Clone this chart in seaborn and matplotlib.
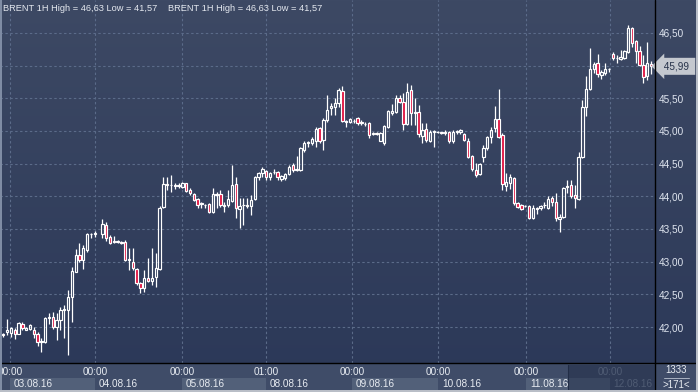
import numpy as np
import matplotlib
matplotlib.use("Agg")
import matplotlib.pyplot as plt
import seaborn as sns
from matplotlib.transforms import blended_transform_factory, offset_copy
from matplotlib.patches import Rectangle

nan = np.nan
# ---------------- data (hourly Brent candles, one NaN slot = missing hour) -------------
open_ = [41.89, 41.92, 41.91, 41.95, 41.90, 42.05, 41.96, 41.97, 41.95, 41.89,
         41.77, 41.77, 42.14, 42.15, 42.00, 42.11, 42.26, 42.26, 42.46, 42.84,
         43.10, 43.03, 43.18, 43.42, 43.43, nan, 43.42, 43.56, 43.38, 43.30, 43.31,
         43.30, 43.30, 43.03, 43.00, 42.89, 42.67, 42.60, 42.75, 42.70, 42.76,
         42.89, 43.84, 44.19, 44.18, 44.17, 44.16, 44.15, 44.20, 44.09, 44.04,
         43.96, 43.88, 43.87, 43.88, 43.76, 44.03, 44.04, 43.85, 43.87, 43.93,
         44.19, 43.81, 43.86, 43.86, 43.85, 43.96, 44.30, 44.36, 44.39, 44.30,
         44.37, 44.38, 44.27, 44.28, 44.34, 44.48, 44.41, 44.40, 44.71, 44.82,
         44.82, 44.85, 45.05, 44.86, 45.17, 45.35, 45.36, 45.43, 45.61, 45.15,
         45.14, 45.16, 45.20, 45.14, 45.11, 45.12, 44.96, 44.97, 44.85, 44.82,
         45.06, 45.28, 45.29, 45.51, 45.44, 45.11, 45.63, 45.28, 45.29, 44.92,
         45.03, 44.85, 44.99, 44.99, 44.98, 44.97, 44.99, 44.84, 44.99, 44.98,
         44.95, 44.85, 44.62, 44.40, 44.34, 44.60, 44.74, 44.91, 45.05, 45.18,
         44.94, 44.16, 44.20, 44.28, 43.90, 43.87, 43.85, 43.85, 43.67, 43.82,
         43.82, 43.87, 43.82, 43.97, 43.91, 43.66, 43.68, 44.15, 44.17, 44.02,
         43.96, 44.60, 45.37, 45.64, 45.95, 46.04, 45.86, 45.89, 45.95, 46.18,
         46.12, 46.10, 46.12, 46.21, 46.58, 46.38, 46.22, 46.01, 45.84, 46.03]
high = [41.91, 42.12, 42.00, 41.98, 42.08, 42.08, 42.00, 42.05, 42.00, 41.92,
        41.83, 42.15, 42.21, 42.23, 42.21, 42.30, 42.34, 42.57, 42.92, 43.19,
        43.28, 43.26, 43.44, 43.44, 43.47, nan, 43.65, 43.61, 43.41, 43.39, 43.33,
        43.32, 43.33, 43.21, 43.21, 42.90, 42.69, 42.87, 43.06, 43.21, 43.13,
        43.85, 44.30, 44.30, 44.33, 44.21, 44.21, 44.22, 44.21, 44.13, 44.05,
        43.97, 43.91, 43.89, 43.90, 44.13, 44.07, 44.10, 43.91, 44.10, 44.48,
        44.30, 43.97, 43.97, 43.97, 44.02, 44.31, 44.37, 44.45, 44.40, 44.37,
        44.42, 44.39, 44.33, 44.36, 44.48, 44.51, 44.62, 44.75, 44.85, 44.85,
        44.91, 45.06, 45.06, 45.20, 45.55, 45.43, 45.51, 45.66, 45.69, 45.17,
        45.20, 45.18, 45.21, 45.17, 45.14, 45.14, 44.98, 44.98, 44.98, 45.09,
        45.32, 45.41, 45.55, 45.55, 45.58, 45.73, 45.70, 45.51, 45.40, 45.12,
        45.12, 45.02, 45.02, 45.00, 44.99, 45.02, 45.00, 45.01, 45.02, 45.03,
        44.97, 44.89, 44.63, 44.51, 44.51, 44.79, 44.93, 45.06, 45.38, 45.64,
        44.97, 44.36, 44.34, 44.30, 43.91, 43.88, 43.87, 43.87, 43.87, 43.84,
        43.87, 43.91, 44.00, 44.00, 44.05, 43.73, 44.14, 44.25, 44.25, 44.17,
        44.68, 45.47, 45.84, 46.27, 46.06, 46.18, 45.93, 46.04, 45.96, 46.21,
        46.16, 46.24, 46.24, 46.63, 46.59, 46.39, 46.30, 46.16, 46.36, 46.07]
low = [41.85, 41.87, 41.85, 41.82, 41.89, 41.96, 41.95, 41.95, 41.83, 41.71,
       41.62, 41.76, 42.04, 41.97, 41.80, 41.95, 41.83, 41.57, 42.08, 42.84,
       43.00, 42.89, 43.15, 43.36, 43.38, nan, 43.36, 43.32, 43.27, 43.29, 43.28,
       43.27, 43.01, 42.87, 42.87, 42.65, 42.52, 42.54, 42.69, 42.64, 42.61,
       42.87, 43.82, 44.10, 44.07, 44.11, 44.13, 44.13, 44.07, 44.02, 43.93,
       43.82, 43.82, 43.82, 43.74, 43.74, 43.82, 43.84, 43.76, 43.84, 43.91,
       43.67, 43.52, 43.56, 43.82, 43.71, 43.94, 44.25, 44.30, 44.25, 44.25,
       44.34, 44.25, 44.24, 44.25, 44.33, 44.37, 44.39, 44.39, 44.68, 44.76,
       44.79, 44.76, 44.82, 44.71, 45.14, 45.25, 45.25, 45.37, 45.14, 45.06,
       45.12, 45.12, 45.09, 45.09, 45.08, 44.89, 44.94, 44.94, 44.84, 44.79,
       45.05, 45.25, 45.28, 45.43, 45.02, 45.09, 45.09, 45.09, 44.91, 44.82,
       44.83, 44.83, 44.76, 44.97, 44.96, 44.94, 44.82, 44.82, 44.96, 44.96,
       44.85, 44.59, 44.39, 44.30, 44.33, 44.53, 44.71, 44.82, 44.99, 44.89,
       44.10, 44.08, 44.11, 43.87, 43.82, 43.79, 43.84, 43.65, 43.65, 43.73,
       43.79, 43.82, 43.81, 43.85, 43.62, 43.45, 43.67, 44.05, 43.97, 43.82,
       43.94, 44.59, 45.23, 45.63, 45.89, 45.83, 45.80, 45.86, 45.90, 46.09,
       46.04, 46.09, 46.10, 46.19, 46.29, 46.04, 45.99, 45.73, 45.78, 45.87]
close = [41.88, 41.95, 41.99, 41.90, 42.06, 41.99, 41.99, 42.03, 41.89, 41.77,
         41.78, 42.14, 42.15, 42.00, 42.11, 42.26, 42.28, 42.46, 42.86, 43.10,
         43.03, 43.21, 43.42, 43.43, 43.44, nan, 43.58, 43.36, 43.29, 43.31, 43.30,
         43.29, 43.03, 43.04, 42.90, 42.67, 42.60, 42.75, 42.71, 42.75, 42.90,
         43.82, 44.19, 44.18, 44.17, 44.16, 44.18, 44.21, 44.08, 44.05, 43.94,
         43.87, 43.90, 43.87, 43.76, 44.04, 44.02, 43.87, 43.86, 43.96, 44.17,
         43.82, 43.85, 43.87, 43.85, 43.94, 44.30, 44.36, 44.42, 44.30, 44.36,
         44.38, 44.30, 44.31, 44.34, 44.45, 44.40, 44.42, 44.74, 44.82, 44.83,
         44.88, 45.03, 44.85, 45.17, 45.32, 45.38, 45.43, 45.63, 45.15, 45.14,
         45.18, 45.15, 45.12, 45.13, 45.10, 44.94, 44.97, 44.96, 44.97, 45.08,
         45.31, 45.31, 45.51, 45.44, 45.11, 45.60, 45.28, 45.29, 44.95, 45.02,
         44.86, 44.99, 45.00, 44.98, 44.97, 44.99, 44.84, 44.99, 45.00, 45.01,
         44.86, 44.60, 44.42, 44.33, 44.49, 44.74, 44.91, 45.02, 45.18, 44.91,
         44.19, 44.22, 44.30, 43.90, 43.84, 43.81, 43.85, 43.67, 43.82, 43.81,
         43.85, 43.87, 43.96, 43.91, 43.67, 43.69, 44.13, 44.16, 44.00, 43.97,
         44.60, 45.37, 45.64, 45.95, 46.03, 45.87, 45.91, 45.95, 45.95, 46.12,
         46.11, 46.13, 46.22, 46.58, 46.35, 46.22, 46.01, 45.83, 46.04, 45.99]

price_ticks = [42.0, 42.5, 43.0, 43.5, 44.0, 44.5, 45.0, 45.5, 46.0, 46.5]
day_start = [1.75, 24.1, 46.9, 69.0, 91.5, 114.1, 137.2, 159.2]
time_labels = ["00:00", "00:00", "00:00", "01:00", "00:00", "00:00", "00:00", "00:00"]
date_labels = ["03.08.16", "04.08.16", "05.08.16", "08.08.16",
               "09.08.16", "10.08.16", "11.08.16", "12.08.16"]
title_text = "BRENT 1H High = 46,63 Low = 41,57"
bar_count_text = ">171<"
scale_text = "1333"

# ---------------- style ----------------
sns.set_style("dark")
plt.rcParams["font.family"] = ["Liberation Sans", "DejaVu Sans"]

W, H = 698, 392
fig = plt.figure(figsize=(W / 100, H / 100), dpi=100)

# background gradient
bg = fig.add_axes([0, 0, 1, 1], zorder=-5)
grad = np.linspace(0, 1, 256)[:, None]
top_c = np.array([61, 73, 100]) / 255
bot_c = np.array([43, 56, 88]) / 255
img = top_c[None, None, :] * (1 - grad[:, :, None]) + bot_c[None, None, :] * grad[:, :, None]
bg.imshow(img, aspect="auto", extent=[0, 1, 0, 1])
bg.set_axis_off()

plot_right = 655 / W
axis_bottom = (H - 363) / H
ax = fig.add_axes([0, axis_bottom, plot_right, 1 - axis_bottom])
ax.set_facecolor("none")
for s in ax.spines.values():
    s.set_visible(False)

o = np.array(open_); h = np.array(high); l = np.array(low); c = np.array(close)
x = np.arange(len(o))
ok = ~np.isnan(o)
up = ok & (c >= o)
dn = ok & (c < o)
b_lo = np.fmin(o, c)
b_hi = np.fmax(o, c)

bw = 0.62
ax.vlines(x[ok], b_hi[ok], h[ok], color="white", lw=0.9, zorder=3)
ax.vlines(x[ok], l[ok], b_lo[ok], color="white", lw=0.9, zorder=3)
ax.bar(x[up], (b_hi - b_lo)[up], bottom=b_lo[up], width=bw, facecolor="none",
       edgecolor="white", linewidth=0.85, zorder=4)
ax.bar(x[dn], (b_hi - b_lo)[dn], bottom=b_lo[dn], width=bw, facecolor="#e0123f",
       edgecolor="white", linewidth=0.85, zorder=4)

ax.set_xlim(-0.866, 171.05)
ax.set_ylim(41.449, 47.005)

# grid
grid_c = "#5b6b89"
for p in price_ticks:
    ax.axhline(p, color=grid_c, lw=0.8, ls=(0, (2.2, 2.2)), zorder=1)
for d in day_start:
    ax.axvline(d, color=grid_c, lw=0.8, ls=(0, (2.2, 2.2)), zorder=1)

# right price axis (the label hidden under the last-price tag is left out)
last = c[ok][-1]
ax.yaxis.tick_right()
ax.set_yticks(price_ticks)
ax.set_yticklabels(["" if abs(p - last) < 0.1 else f"{p:.2f}".replace(".", ",")
                    for p in price_ticks])
ax.tick_params(axis="y", length=0, pad=3, labelcolor="#dfe5ef", labelsize=7.2)
ax.set_xticks([])

# last price tag
tag_tr = offset_copy(blended_transform_factory(ax.transAxes, ax.transData),
                     fig=fig, x=6, y=0, units="dots")
ax.text(1.0, last, " " + f"{last:.2f}".replace(".", ",") + " ",
        transform=tag_tr, ha="left", va="center", fontsize=7.2, color="#26324a",
        zorder=10, bbox=dict(boxstyle="larrow,pad=0.35", fc="#c4c8cf", ec="none"),
        clip_on=False)

# title texts
for xp in (3, 168):
    fig.text(xp / W, 1 - 8.5 / H, title_text, ha="left", va="center",
             fontsize=6.7, color="#e4e8ef")

# bottom strip
fig.patches.append(Rectangle((0, 0), plot_right, axis_bottom, transform=fig.transFigure,
                             facecolor="#3f4c68", edgecolor="none", zorder=-1))
fig.patches.append(Rectangle((plot_right, 0), 1 - plot_right, axis_bottom,
                             transform=fig.transFigure, facecolor="#3f4c68",
                             edgecolor="none", zorder=-1))
bt = blended_transform_factory(ax.transData, fig.transFigure)
for i, d in enumerate(day_start):
    nxt = day_start[i + 1] if i + 1 < len(day_start) else 171.05
    if i % 2 == 0:
        ax.add_patch(Rectangle((d, 2 / H), nxt - d, 12 / H, transform=bt,
                               facecolor="#526079", edgecolor="none", zorder=0,
                               clip_on=False))
faded = [False] * 7 + [True]
for d, tl, dl, fd in zip(day_start, time_labels, date_labels, faded):
    col = "#7a869c" if fd else "#e8ecf2"
    ax.text(d, 1 - 372 / H, tl, transform=bt, ha="center", va="center",
            fontsize=7.2, color=col, clip_on=False)
    ax.text(d + 1.0, 1 - 384 / H, dl, transform=bt, ha="left", va="center",
            fontsize=7.2, color=col, clip_on=False)
# navigator overlay
fig.patches.append(Rectangle((568 / W, 2 / H), (655 - 568) / W, 25 / H,
                             transform=fig.transFigure, facecolor="#1c2842",
                             alpha=0.45, edgecolor="none", zorder=5))
fig.lines.append(plt.Line2D([568 / W, 568 / W], [2 / H, 27 / H],
                            transform=fig.transFigure, color="#27324a", lw=0.8))

# separators
fig.lines.append(plt.Line2D([0, 1], [axis_bottom, axis_bottom],
                            transform=fig.transFigure, color="black", lw=1.0))
fig.lines.append(plt.Line2D([plot_right, plot_right], [0, 1],
                            transform=fig.transFigure, color="black", lw=1.0))
# left stripe and outer frame
fig.patches.append(Rectangle((0, 0), 2 / W, 1, transform=fig.transFigure,
                             facecolor="#7f8ca4", edgecolor="none", zorder=6))
fig.patches.append(Rectangle((1 - 2 / W, 0), 2 / W, 1, transform=fig.transFigure,
                             facecolor="#b9bec7", edgecolor="none", zorder=6))
fig.patches.append(Rectangle((0, 0), 1, 2 / H, transform=fig.transFigure,
                             facecolor="#b9bec7", edgecolor="none", zorder=6))

# bottom right box
cx = (655 + 697) / 2 / W
fig.text(cx, 1 - 370 / H, scale_text, ha="center", va="center", fontsize=7, color="#e8ecf2")
fig.lines.append(plt.Line2D([664 / W, 689 / W], [1 - 377.5 / H, 1 - 377.5 / H],
                            transform=fig.transFigure, color="#aab3c2", lw=0.7))
fig.text(cx, 1 - 384.5 / H, bar_count_text, ha="center", va="center", fontsize=7,
         color="#e8ecf2")

fig.savefig("out.png", dpi=100, facecolor=fig.get_facecolor())
